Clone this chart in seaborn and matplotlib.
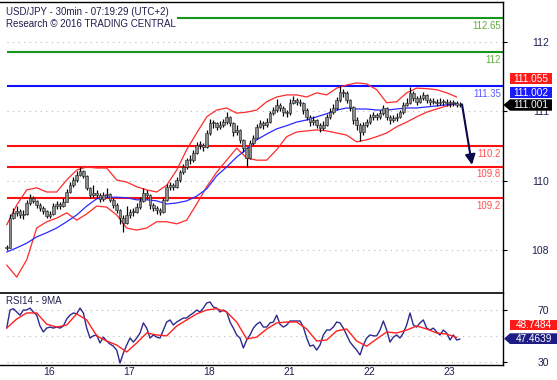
import matplotlib
matplotlib.use("Agg")
import matplotlib.pyplot as plt
import matplotlib.transforms as mtransforms
from matplotlib.patches import Polygon
import numpy as np
import pandas as pd
import seaborn as sns

# USD/JPY hourly bars
closes = [
    108.25, 108.82, 108.92, 108.96, 108.88, 108.90, 109.11, 109.21, 109.15, 109.07,
    109.01, 108.96, 108.86, 108.90, 109.05, 109.09, 109.05, 109.13, 109.32, 109.45,
    109.55, 109.65, 109.72, 109.63, 109.40, 109.26, 109.30, 109.26, 109.19, 109.26,
    109.28, 109.17, 109.07, 108.98, 108.82, 108.73, 108.88, 108.94, 108.94, 109.03,
    109.15, 109.30, 109.26, 109.07, 109.01, 108.98, 108.94, 109.17, 109.42, 109.45,
    109.42, 109.55, 109.70, 109.80, 109.93, 109.93, 110.07, 110.22, 110.22, 110.18,
    110.45, 110.64, 110.64, 110.57, 110.60, 110.66, 110.76, 110.64, 110.47, 110.51,
    110.32, 110.16, 109.97, 110.26, 110.36, 110.57, 110.64, 110.60, 110.66, 110.83,
    110.89, 110.99, 110.93, 110.85, 110.83, 111.03, 111.08, 111.05, 111.03, 110.89,
    110.76, 110.66, 110.70, 110.60, 110.55, 110.60, 110.76, 110.85, 110.93, 111.08,
    111.24, 111.22, 111.08, 110.95, 110.70, 110.60, 110.47, 110.60, 110.66, 110.76,
    110.80, 110.76, 110.83, 110.93, 110.76, 110.70, 110.74, 110.76, 110.85, 110.99,
    111.03, 111.22, 111.12, 111.05, 111.12, 111.18, 111.08, 111.05, 111.05, 111.03,
    111.05, 111.05, 111.03, 111.03, 111.03, 110.99, 111.00]
highs = [
    108.30, 108.90, 109.02, 109.05, 109.00, 108.98, 109.16, 109.28, 109.24, 109.17,
    109.10, 109.05, 108.98, 108.96, 109.10, 109.15, 109.12, 109.20, 109.38, 109.52,
    109.60, 109.72, 109.80, 109.75, 109.64, 109.42, 109.45, 109.36, 109.30, 109.32,
    109.40, 109.30, 109.20, 109.10, 109.00, 108.88, 109.05, 109.00, 109.02, 109.10,
    109.22, 109.40, 109.35, 109.28, 109.10, 109.05, 109.02, 109.22, 109.48, 109.52,
    109.50, 109.60, 109.75, 109.86, 109.98, 110.02, 110.12, 110.28, 110.30, 110.26,
    110.50, 110.72, 110.70, 110.66, 110.68, 110.72, 110.85, 110.78, 110.66, 110.60,
    110.52, 110.34, 110.18, 110.32, 110.42, 110.62, 110.70, 110.68, 110.74, 110.88,
    110.95, 111.10, 111.02, 110.96, 110.90, 111.10, 111.15, 111.12, 111.10, 111.05,
    110.92, 110.80, 110.78, 110.72, 110.64, 110.68, 110.82, 110.92, 111.00, 111.14,
    111.36, 111.30, 111.25, 111.10, 110.97, 110.75, 110.64, 110.66, 110.72, 110.82,
    110.86, 110.84, 110.90, 110.98, 110.95, 110.80, 110.80, 110.84, 110.90, 111.04,
    111.12, 111.34, 111.26, 111.16, 111.18, 111.24, 111.20, 111.12, 111.12, 111.10,
    111.12, 111.10, 111.10, 111.08, 111.08, 111.06, 111.05]
lows = [
    108.20, 108.25, 108.80, 108.86, 108.82, 108.80, 108.88, 109.08, 109.10, 109.02,
    108.96, 108.90, 108.82, 108.82, 108.88, 109.00, 109.00, 109.03, 109.12, 109.30,
    109.42, 109.52, 109.62, 109.58, 109.36, 109.20, 109.22, 109.20, 109.12, 109.15,
    109.22, 109.12, 109.02, 108.92, 108.70, 108.55, 108.70, 108.82, 108.86, 108.92,
    109.00, 109.12, 109.18, 109.00, 108.95, 108.90, 108.88, 108.92, 109.15, 109.36,
    109.35, 109.40, 109.52, 109.66, 109.76, 109.86, 109.90, 110.04, 110.14, 110.10,
    110.16, 110.42, 110.55, 110.50, 110.52, 110.56, 110.62, 110.58, 110.40, 110.42,
    110.26, 110.08, 109.80, 109.95, 110.22, 110.34, 110.54, 110.52, 110.56, 110.64,
    110.80, 110.86, 110.88, 110.78, 110.76, 110.80, 111.00, 110.98, 110.96, 110.82,
    110.70, 110.58, 110.60, 110.54, 110.46, 110.50, 110.58, 110.72, 110.82, 110.90,
    111.05, 111.14, 111.02, 110.88, 110.62, 110.50, 110.30, 110.42, 110.56, 110.62,
    110.70, 110.70, 110.72, 110.80, 110.70, 110.62, 110.66, 110.68, 110.74, 110.82,
    110.96, 111.00, 111.06, 110.98, 111.02, 111.08, 111.02, 110.98, 111.00, 110.96,
    110.98, 110.98, 110.96, 110.94, 110.96, 110.94, 110.95]

# Bollinger bands and moving average, every third hour
bb_upper = [
    108.69, 109.07, 109.36, 109.40, 109.32, 109.32, 109.55, 109.74, 109.80, 109.78,
    109.78, 109.55, 109.51, 109.42, 109.36, 109.32, 109.45, 109.74, 110.13, 110.45,
    110.76, 110.89, 110.93, 110.83, 110.85, 110.89, 111.05, 111.14, 111.18, 111.18,
    111.14, 111.22, 111.18, 111.31, 111.37, 111.41, 111.39, 111.28, 111.03, 111.05,
    111.22, 111.31, 111.30, 111.28, 111.22, 111.14]
bb_lower = [
    107.92, 107.69, 108.02, 108.63, 108.75, 108.82, 108.92, 108.78, 108.90, 109.05,
    109.03, 108.88, 108.63, 108.59, 108.63, 108.75, 108.75, 108.71, 108.78, 109.09,
    109.42, 109.70, 109.93, 110.16, 109.97, 109.93, 109.93, 110.13, 110.38, 110.47,
    110.49, 110.51, 110.49, 110.45, 110.41, 110.28, 110.32, 110.38, 110.45, 110.57,
    110.66, 110.76, 110.85, 110.91, 110.97, 111.01]
ma_line = [
    108.17, 108.25, 108.34, 108.46, 108.54, 108.63, 108.75, 108.88, 109.05, 109.19,
    109.22, 109.22, 109.21, 109.17, 109.17, 109.15, 109.09, 109.11, 109.15, 109.24,
    109.38, 109.63, 109.80, 109.99, 110.14, 110.32, 110.43, 110.53, 110.59, 110.66,
    110.70, 110.76, 110.82, 110.89, 110.93, 110.91, 110.91, 110.89, 110.89, 110.91,
    110.93, 110.93, 110.95, 110.97, 110.99, 111.01]

# RSI14 (hourly) and its 9MA (every third hour)
rsi = [
    56, 70, 71, 68.5, 66, 70, 70, 71.5, 68.5, 66,
    57.6, 53, 56, 56.8, 56, 56.8, 56, 57.6, 63, 66,
    67.7, 67, 71.5, 67.7, 56, 48.3, 50, 50.7, 44.5, 49,
    46, 43.7, 42, 39, 29, 36.7, 42.9, 48.3, 45.2, 48.3,
    52.2, 60, 56, 48.3, 50.7, 49, 48.3, 54.5, 60.7, 62.3,
    58.4, 60.7, 62.3, 63.8, 63.8, 66, 67.7, 70, 68.5, 71.5,
    75.4, 76.2, 72.3, 71.5, 68.5, 70, 68.5, 60.7, 56, 50.7,
    48.3, 40.6, 46.8, 50.7, 56, 59, 60.7, 56.8, 56.8, 60,
    60.7, 66, 59, 56.8, 58.4, 61.5, 61.5, 61.5, 61.5, 56.8,
    48.3, 42, 42.9, 39, 42.9, 50.7, 54.5, 54.5, 56.8, 60.7,
    60, 56, 50.7, 45.2, 42, 39, 35.2, 42.9, 48.3, 50.7,
    50, 50, 54.5, 61.5, 54.5, 45.2, 49, 50.7, 48.3, 52.2,
    58.4, 67.7, 58.4, 56.8, 60, 62.3, 56, 54.5, 56, 53,
    50.7, 54.5, 52.2, 46.8, 50.7, 46.8, 47.5]
rsi_ma = [
    56, 63, 67.7, 67.7, 59, 56.8, 58.4, 67, 62.3, 50,
    46, 42.9, 37.5, 44.5, 52.2, 50.7, 50, 57.6, 62.3, 67,
    70, 71, 68.5, 60.7, 47.6, 49, 55.3, 60, 60.7, 60.7,
    55.3, 46, 46.8, 53.8, 55.3, 46, 42, 47.6, 53, 52.2,
    54.5, 57.6, 55.3, 52.2, 51.4, 48.75]

# key levels
levels = [112.65, 112.0, 111.35, 110.2, 109.8, 109.2]
level_labels = ["112.65", "112", "111.35", "110.2", "109.8", "109.2"]
level_colors = ["#16961a", "#16961a", "#1010ff", "#ff1010", "#ff1010", "#ff1010"]
level_text_colors = ["#5fae3a", "#5fae3a", "#5a5aff", "#ff5050", "#ff5050", "#ff5050"]
level_starts = [51, 0, 0, 0, 0, 0]

price_ticks = [112.20, 110.87, 109.53, 108.20]
price_tick_labels = ["112", "111", "110", "108"]
rsi_grid = [70, 50, 30]
rsi_ticks = [70, 30]
day_hours = [10, 34, 58, 82, 106, 130]
day_labels = ["16", "17", "18", "21", "22", "23"]

sns.set_style("white")
plt.rcParams['font.family'] = ['Liberation Sans', 'DejaVu Sans']

W, H = 557, 380
NAVY = "#1f1f4f"
fig = plt.figure(figsize=(W / 100, H / 100), dpi=100)


def fx(px):
    return px / W


def fy(py):
    return 1 - py / H


ax = fig.add_axes([0, fy(293), fx(503), fy(2) - fy(293)])
ax_rsi = fig.add_axes([0, fy(365), fx(503), fy(293) - fy(365)])
x_lo, x_hi = -2.01, 148.9

hours = np.arange(len(closes))
hours3 = hours[::3]

# --- price panel ---
for t in price_ticks:
    ax.hlines(t, 0, x_hi, color="#b8b8b8", lw=0.8, linestyles=(0, (1, 4)), zorder=0)

for lvl, lab, col, tcol, start in zip(levels, level_labels, level_colors,
                                      level_text_colors, level_starts):
    ax.hlines(lvl, start, x_hi, color=col, lw=1.5, zorder=1)
    ax.annotate(lab, xy=(x_hi, lvl), xytext=(-1.5, -1.8), textcoords="offset points",
                ha="right", va="top", fontsize=6.9, color=tcol)

bands = pd.DataFrame({"hour": hours3, "upper": bb_upper, "lower": bb_lower, "ma": ma_line})
sns.lineplot(data=bands, x="hour", y="upper", ax=ax, color="#ff2a2a", lw=0.9, zorder=2)
sns.lineplot(data=bands, x="hour", y="lower", ax=ax, color="#ff2a2a", lw=0.9, zorder=2)
sns.lineplot(data=bands, x="hour", y="ma", ax=ax, color="#2a2aff", lw=0.9, zorder=2)

c = np.array(closes)
o = np.concatenate([[closes[0]], c[:-1]])
ax.vlines(hours, lows, highs, color="black", lw=0.9, zorder=3)
ax.bar(hours, np.maximum(np.abs(c - o), 0.015), bottom=np.minimum(o, c), width=0.85,
       color="#8c8c8c", edgecolor="#202020", linewidth=0.4, zorder=4)

ax.annotate("", xy=(139.6, 109.84), xytext=(136.6, 111.00),
            arrowprops=dict(arrowstyle="-|>", color="#0a0a4a", lw=1.5,
                            mutation_scale=15, shrinkA=0, shrinkB=0), zorder=5)

ax.set_xlim(x_lo, x_hi)
ax.set_ylim(107.385, 112.96)
ax.set_xticks([])
ax.yaxis.tick_right()
ax.set_yticks(price_ticks, labels=price_tick_labels)
ax.tick_params(axis="y", direction="out", length=3, width=0.8, color="black",
               labelcolor=NAVY, labelsize=7.5, pad=30)
for lbl in ax.get_yticklabels():
    lbl.set_ha("right")
ax.set_xlabel("")
ax.set_ylabel("")
for side in ["left", "bottom"]:
    ax.spines[side].set_visible(False)
for side in ["top", "right"]:
    ax.spines[side].set_color("black")
    ax.spines[side].set_linewidth(1.0)

# --- RSI panel ---
for t in rsi_grid:
    ax_rsi.hlines(t, 0, x_hi, color="#b8b8b8", lw=0.8, linestyles=(0, (1, 4)), zorder=0)
rsi_df = pd.DataFrame({"hour": hours, "rsi": rsi})
rsi_ma_df = pd.DataFrame({"hour": hours3, "ma": rsi_ma})
sns.lineplot(data=rsi_df, x="hour", y="rsi", ax=ax_rsi, color="#2b2b8f", lw=1.0, zorder=2)
sns.lineplot(data=rsi_ma_df, x="hour", y="ma", ax=ax_rsi, color="#ff2020", lw=1.0, zorder=3)

ax_rsi.set_xlim(x_lo, x_hi)
ax_rsi.set_ylim(27.45, 83.15)
ax_rsi.yaxis.tick_right()
ax_rsi.set_yticks(rsi_ticks, labels=[str(v) for v in rsi_ticks])
ax_rsi.tick_params(axis="y", direction="out", length=3, width=0.8, color="black",
                   labelcolor=NAVY, labelsize=7.5, pad=30)
for lbl in ax_rsi.get_yticklabels():
    lbl.set_ha("right")
ax_rsi.set_xticks(day_hours, labels=[""] * len(day_hours))
ax_rsi.tick_params(axis="x", direction="out", length=3.5, width=0.8, color="black")
trans = mtransforms.blended_transform_factory(ax_rsi.transData, ax_rsi.transAxes)
for h, lab in zip(day_hours, day_labels):
    ax_rsi.text(h + 0.9, -0.10, lab, transform=trans, ha="left", va="center",
                fontsize=7.5, color=NAVY)
ax_rsi.set_xlabel("")
ax_rsi.set_ylabel("")
ax_rsi.spines["left"].set_visible(False)
for side in ["top", "right", "bottom"]:
    ax_rsi.spines[side].set_color("black")
    ax_rsi.spines[side].set_linewidth(1.2 if side == "top" else 1.0)

# --- headers ---
fig.text(fx(6), fy(12.3), "USD/JPY - 30min - 07:19:29 (UTC+2)", ha="left", va="center",
         fontsize=7, color=NAVY)
fig.text(fx(6), fy(24.3), "Research \u00a9 2016 TRADING CENTRAL", ha="left", va="center",
         fontsize=7, color=NAVY)
fig.text(fx(6), fy(300.5), "RSI14 - 9MA", ha="left", va="center", fontsize=7, color=NAVY)


# --- value boxes on the right ---
def value_box(x0, y0, x1, y1, fc, label, tip=None):
    if tip is None:
        pts = [(x0, y0), (x1, y0), (x1, y1), (x0, y1)]
    else:
        pts = [(tip, (y0 + y1) / 2), (x0, y0), (x1, y0), (x1, y1), (x0, y1)]
    fig.add_artist(Polygon([(fx(a), fy(b)) for a, b in pts], closed=True,
                           transform=fig.transFigure, fc=fc, ec="none", zorder=5))
    fig.text(fx((x0 + x1) / 2), fy((y0 + y1) / 2 + 0.3), label, ha="center", va="center",
             fontsize=7.2, color="white", zorder=6)


value_box(510, 72.7, 552, 84.3, "#ff1a1a", "111.055")
value_box(510, 87.0, 552, 97.5, "#1a1aff", "111.002")
value_box(510, 99.3, 552, 110.7, "#000000", "111.001", tip=503.3)
value_box(510, 320.0, 557, 330.0, "#ff1a1a", "48.7484")
value_box(510, 333.3, 557, 344.0, "#1c1c84", "47.4639", tip=504)

fig.savefig("out.png", dpi=100)
